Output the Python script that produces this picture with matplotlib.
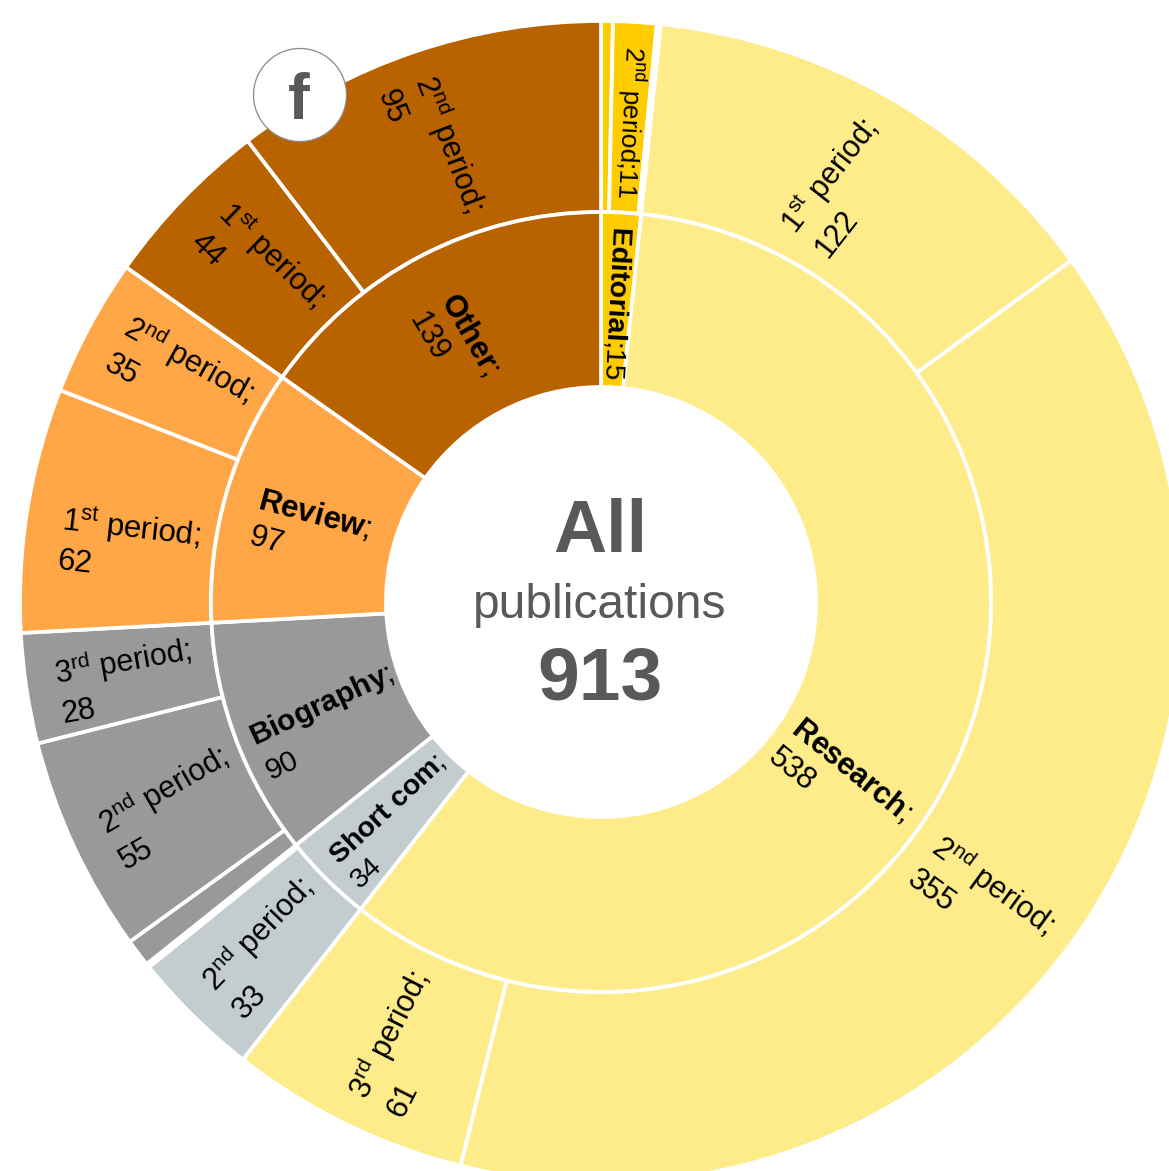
import matplotlib
matplotlib.use("Agg")
import matplotlib.pyplot as plt
from matplotlib.patches import Circle

plt.rcParams['font.family'] = ['Liberation Sans', 'DejaVu Sans']
plt.rcParams['mathtext.fontset'] = 'custom'
plt.rcParams['mathtext.rm'] = 'Liberation Sans'
plt.rcParams['mathtext.it'] = 'Liberation Sans:italic'
plt.rcParams['mathtext.bf'] = 'Liberation Sans:bold'

# --- data -----------------------------------------------------------
types = ['Editorial', 'Research', 'Short com', 'Biography', 'Review', 'Other']
type_values = [15, 538, 34, 90, 97, 139]
type_colors = ['#FFCC00', '#FDEC89', '#C3CDCF', '#999999', '#FFA647', '#B96200']

# one publication without a period leaves an uncoloured sliver in two groups
period_values = [3, 11, 1, 122, 355, 61, 33, 1, 7, 55, 28, 62, 35, 44, 95]
period_colors = ['#FFCC00', '#FFCC00', 'white', '#FDEC89', '#FDEC89', '#FDEC89',
                 '#C3CDCF', 'white', '#999999', '#999999', '#999999',
                 '#FFA647', '#FFA647', '#B96200', '#B96200']

total = 913
center_title = 'All'
center_sub = 'publications'

# --- layout ---------------------------------------------------------
W, H = 1169, 1171
CX, CY = 601, 602
fig = plt.figure(figsize=(W / 100, H / 100), dpi=100)
ax = fig.add_axes([0, 0, 1, 1])

edge = dict(edgecolor='white', linewidth=2.7)
ax.pie(period_values, colors=period_colors, radius=581, startangle=90,
       counterclock=False, wedgeprops=dict(width=191, **edge))
ax.pie(type_values, colors=type_colors, radius=390, startangle=90,
       counterclock=False, wedgeprops=dict(width=175, **edge))

ax.set_aspect('equal')
ax.set_xlim(-CX, W - CX)
ax.set_ylim(-(H - CY), CY)
ax.axis('off')


def px(x, y):
    return x - CX, CY - y


def sup(n, s):
    return f"{n}$^{{\\mathrm{{{s}}}}}$ period;"


def bold(s):
    return "$\\mathbf{" + s.replace(' ', '\\ ') + "}$;"


# label text, block centre in pixels, rotation, size
labels = [
    (sup(2, 'nd') + '11', 630, 122, -93, 18.8),
    (bold(types[0]) + str(type_values[0]), 617, 303, -93, 20.5),
    (sup(1, 'st') + '\n' + str(period_values[3]), 845, 187, 52, 22),
    (sup(2, 'nd') + '\n' + str(period_values[4]), 982, 900, -36, 22),
    (sup(3, 'rd') + '\n' + str(period_values[5]), 406, 1043, 63, 22),
    (sup(2, 'nd') + '\n' + str(period_values[6]), 271, 947, 46, 22),
    (sup(2, 'nd') + '\n' + str(period_values[9]), 172, 807, 30, 22),
    (sup(3, 'rd') + '\n' + str(period_values[10]), 126, 680, 10, 22),
    (sup(1, 'st') + '\n' + str(period_values[11]), 129, 547, -6.5, 22.5),
    (sup(2, 'nd') + '\n' + str(period_values[12]), 180, 376, -29, 22),
    (sup(1, 'st') + '\n' + str(period_values[13]), 259, 269, -44, 22),
    (sup(2, 'nd') + '\n' + str(period_values[14]), 432, 150, -69, 22),
    (bold(types[1]) + '\n' + str(type_values[1]), 840, 785, -39, 22),
    (bold(types[2]) + '\n' + str(type_values[2]), 398, 821, 43, 20.5),
    (bold(types[3]) + '\n' + str(type_values[3]), 329, 722, 25, 21.5),
    (bold(types[4]) + '\n' + str(type_values[4]), 310, 533, -15, 22.5),
    (bold(types[5]) + '\n' + str(type_values[5]), 454, 344, -60, 22),
]
for s, x, y, rot, size in labels:
    ax.text(*px(x, y), s, rotation=rot, rotation_mode='anchor', fontsize=size,
            ha='center', va='center', multialignment='left', linespacing=1.32,
            color='black')

GREY = '#58595B'
ax.text(*px(600, 532), center_title, fontsize=53, fontweight='bold', color=GREY,
        ha='center', va='center')
ax.text(*px(600, 605), center_sub, fontsize=34.5, color=GREY, ha='center', va='center')
ax.text(*px(600, 680), str(total), fontsize=54, fontweight='bold', color=GREY,
        ha='center', va='center')

ax.add_patch(Circle(px(300, 95), 46.5, facecolor='white', edgecolor='#8A8A8A',
                    linewidth=0.9, zorder=5))
ax.text(*px(299, 102), 'f', fontsize=47, fontweight='bold', color=GREY,
        ha='center', va='center', zorder=6)

fig.savefig('out.png', dpi=100)
